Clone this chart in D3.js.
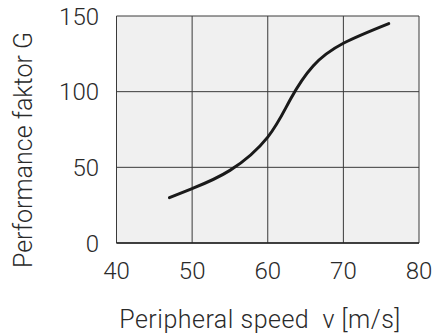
<!DOCTYPE html>
<html>
<head>
<meta charset="utf-8">
<script src="https://cdn.jsdelivr.net/npm/d3@7"></script>
<style>
  body { margin: 0; background: #fff; }
  text { font-family: Roboto, "Liberation Sans", sans-serif; font-weight: 300; fill: #2a2a2a; }
</style>
</head>
<body>
<div id="chart"></div>
<script>
// peripheral speed v [m/s]
const speed = [47, 50, 55, 60, 63, 66, 70, 76];
// performance factor G
const perf = [30, 36, 48, 70, 95, 117, 132, 145];
const xTicks = [40, 50, 60, 70, 80];
const yTicks = [0, 50, 100, 150];

const width = 433, height = 335;
const margin = { top: 16, right: 14, bottom: 92, left: 116.5 };

const svg = d3.select('#chart')
  .append('svg')
  .attr('width', width)
  .attr('height', height);

const x = d3.scaleLinear().domain([40, 80]).range([margin.left, width - margin.right]);
const y = d3.scaleLinear().domain([0, 150]).range([height - margin.bottom, margin.top]);

// plot background
svg.append('rect')
  .attr('x', x(40)).attr('y', y(150))
  .attr('width', x(80) - x(40)).attr('height', y(0) - y(150))
  .attr('fill', '#f0f0f0');

// grid
svg.append('g')
  .selectAll('line')
  .data(xTicks)
  .join('line')
  .attr('x1', d => x(d)).attr('x2', d => x(d))
  .attr('y1', y(0)).attr('y2', y(150))
  .attr('stroke', '#3a3a3a').attr('stroke-width', 1);

svg.append('g')
  .selectAll('line')
  .data(yTicks)
  .join('line')
  .attr('x1', x(40)).attr('x2', x(80))
  .attr('y1', d => y(d)).attr('y2', d => y(d))
  .attr('stroke', '#3a3a3a').attr('stroke-width', 1);

// axis bottom line slightly heavier
svg.append('line')
  .attr('x1', x(40)).attr('x2', x(80))
  .attr('y1', y(0)).attr('y2', y(0))
  .attr('stroke', '#222').attr('stroke-width', 1.5);

// tick labels
svg.append('g')
  .selectAll('text')
  .data(xTicks)
  .join('text')
  .attr('x', d => x(d))
  .attr('y', 279)
  .attr('text-anchor', 'middle')
  .attr('font-size', 24)
  .text(d => d);

svg.append('g')
  .selectAll('text')
  .data(yTicks)
  .join('text')
  .attr('x', 99)
  .attr('y', d => y(d))
  .attr('dy', '0.36em')
  .attr('text-anchor', 'end')
  .attr('font-size', 24)
  .text(d => d);

// axis titles
svg.append('text')
  .attr('x', 260)
  .attr('y', 328)
  .attr('text-anchor', 'middle')
  .attr('font-size', 25)
  .attr('letter-spacing', 0.5)
  .attr('xml:space', 'preserve')
  .text('Peripheral speed  v [m/s]');

svg.append('text')
  .attr('transform', 'translate(32,150) rotate(-90)')
  .attr('text-anchor', 'middle')
  .attr('font-size', 25)
  .text('Performance faktor G');

// curve
const line = d3.line()
  .x((d, i) => x(speed[i]))
  .y(d => y(d))
  .curve(d3.curveNatural);

svg.append('path')
  .datum(perf)
  .attr('d', line)
  .attr('fill', 'none')
  .attr('stroke', '#1a1a1a')
  .attr('stroke-width', 3)
  .attr('stroke-linecap', 'round');
</script>
</body>
</html>
